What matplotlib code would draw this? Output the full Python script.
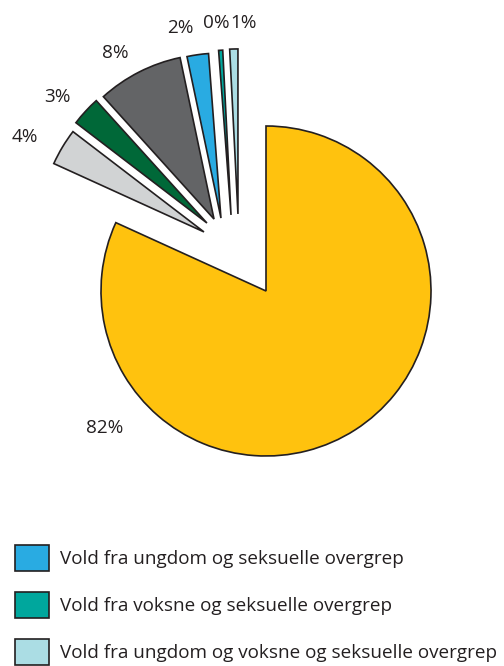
import matplotlib
matplotlib.use("Agg")
import matplotlib.pyplot as plt

# slice shares (%), clockwise from 12 o'clock
values = [81.8, 3.6, 2.9, 8.4, 2.1, 0.4, 0.8]
colors = ["#FFC20E", "#D1D3D4", "#006838", "#636466", "#29ABE2", "#00A79D", "#ABDDE4"]
# only the last three categories are visible in the legend
legend_labels = [
    "Vold fra ungdom og seksuelle overgrep",
    "Vold fra voksne og seksuelle overgrep",
    "Vold fra ungdom og voksne og seksuelle overgrep",
]

# layout (radius units): where each wedge's apex sits, where its label goes
WEDGE_SHIFT = [(0, 0), (-0.376, 0.358), (-0.358, 0.412), (-0.315, 0.436),
               (-0.273, 0.442), (-0.212, 0.461), (-0.170, 0.467)]
LABEL_POS = [(-0.979, -0.830), (-1.461, 0.933), (-1.264, 1.176), (-0.915, 1.442),
             (-0.521, 1.594), (-0.300, 1.624), (-0.136, 1.624)]
INK = "#231F20"
FS = 13.6

plt.rcParams["font.family"] = ["Open Sans", "DejaVu Sans"]

W, H, R = 504, 666, 165.0   # px
CX, CY = 266, 291           # pie centre, px from top-left
fig = plt.figure(figsize=(W / 100, H / 100), dpi=100)
ax = fig.add_axes([0, 0, 1, 1])

wedges, _ = ax.pie(values, colors=colors, startangle=90, counterclock=False, radius=1,
                   wedgeprops=dict(edgecolor=INK, linewidth=1.2))
for w, s in zip(wedges, WEDGE_SHIFT):
    w.set_center(s)

for v, (x, y) in zip(values, LABEL_POS):
    ax.text(x, y, f"{round(v)}%", ha="center", va="center", fontsize=FS, color=INK)

ax.set_xlim(-CX / R, (W - CX) / R)
ax.set_ylim(-(H - CY) / R, CY / R)
ax.set_aspect("auto")
ax.axis("off")

# legend boxes 34x26 px, rows 47 px apart
px = FS * 100 / 72
fig.legend(wedges[4:], legend_labels, loc="upper left",
           bbox_to_anchor=(15 / W, 1 - 545 / H), frameon=False,
           borderpad=0, borderaxespad=0, fontsize=FS, labelcolor=INK,
           handlelength=34 / px, handleheight=(26 / px - 0.245) / 0.65,
           handletextpad=11 / px, labelspacing=21 / px)

fig.savefig("out.png", dpi=100)
